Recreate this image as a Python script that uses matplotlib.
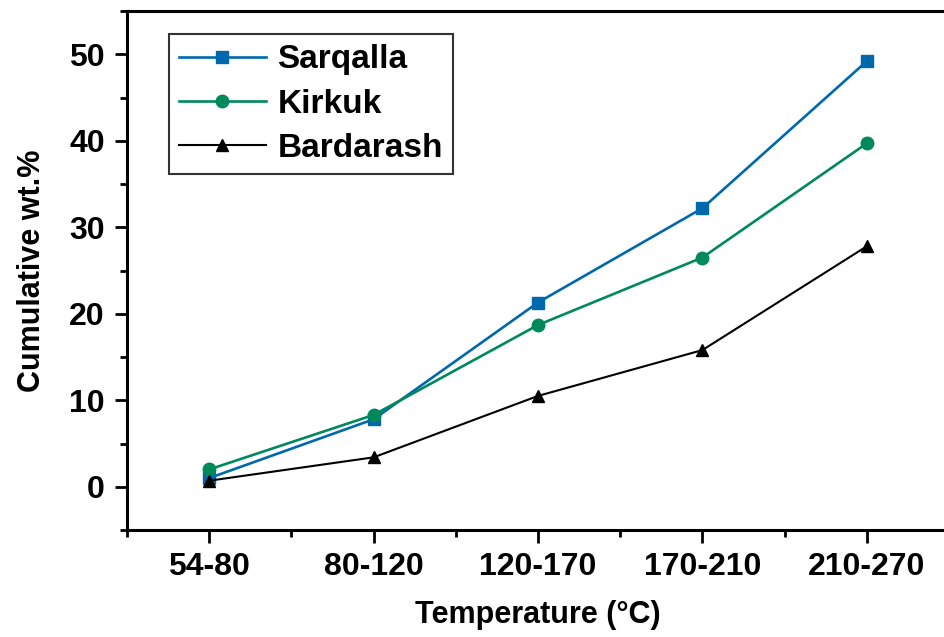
import numpy as np
import matplotlib.pyplot as plt
from matplotlib.ticker import MultipleLocator

plt.rcParams['font.family'] = ['Liberation Sans', 'DejaVu Sans']
plt.rcParams['font.weight'] = 'bold'

## data
ranges = ['54-80', '80-120', '120-170', '170-210', '210-270']
sarqalla = [1.0, 7.8, 21.3, 32.2, 49.2]
kirkuk = [2.0, 8.3, 18.7, 26.5, 39.7]
bardarash = [0.7, 3.4, 10.5, 15.8, 27.8]

fig = plt.figure(figsize=(9.44, 6.37), dpi=100)
# right side of the axes runs past the figure edge, like the cropped original
ax = fig.add_axes([127/944, 1 - 530/637, 822/944, 519/637])

x = np.arange(len(ranges))
ax.plot(x, sarqalla, '-s', color='#0068ad', lw=1.9, ms=9, label='Sarqalla')
ax.plot(x, kirkuk, '-o', color='#00895a', lw=1.9, ms=9, label='Kirkuk')
ax.plot(x, bardarash, '-^', color='black', lw=1.5, ms=9, label='Bardarash')

ax.set_xlim(-0.5, 4.5)
ax.set_ylim(-5, 55)
ax.set_xticks(x)
ax.set_xticklabels(ranges)
ax.xaxis.set_minor_locator(MultipleLocator(0.5))
ax.yaxis.set_major_locator(MultipleLocator(10))
ax.yaxis.set_minor_locator(MultipleLocator(5))
ax.tick_params(which='major', direction='out', length=9, width=2, labelsize=23, pad=7)
ax.tick_params(which='minor', direction='out', length=5, width=2)

for s in ax.spines.values():
    s.set_linewidth(2.2)

ax.set_xlabel('Temperature (°C)', fontsize=22, fontweight='bold', labelpad=13)
ax.set_ylabel('Cumulative wt.%', fontsize=22, fontweight='bold', labelpad=16)

leg = ax.legend(loc='upper left', bbox_to_anchor=(0.051, 0.955), fontsize=24,
                frameon=True, fancybox=False, edgecolor='black', handlelength=2.6,
                borderpad=0.3, labelspacing=0.4, handletextpad=0.35, borderaxespad=0)
leg.get_frame().set_linewidth(1.5)

fig.savefig('out.png', dpi=100)
